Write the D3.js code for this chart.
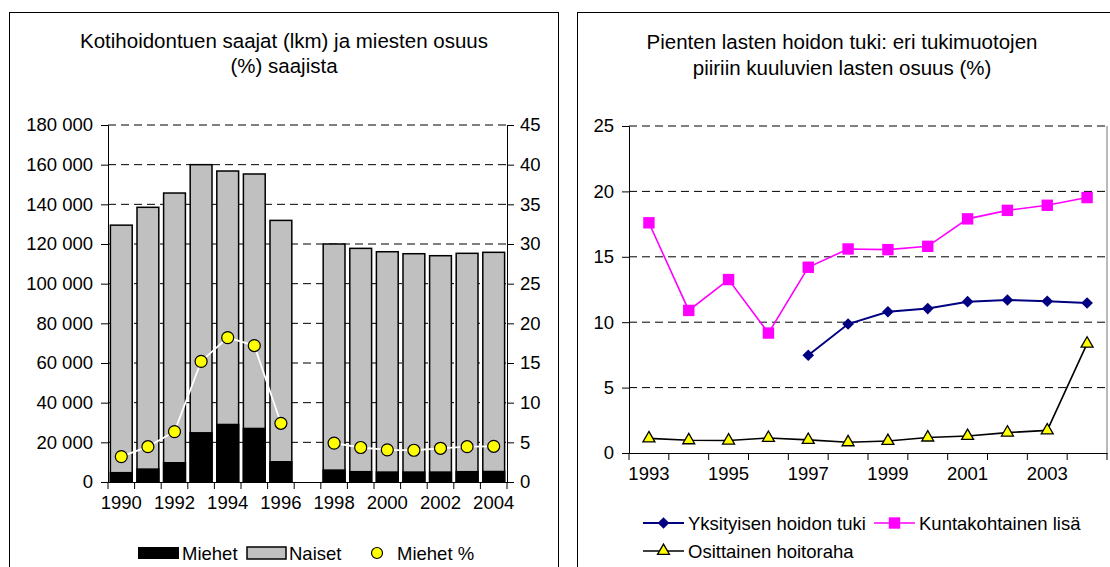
<!DOCTYPE html>
<html>
<head>
<meta charset="utf-8">
<script src="https://cdn.jsdelivr.net/npm/d3@7"></script>
<style>
  body { margin: 0; background: #fff; }
  text { font-family: "Liberation Sans", Arial, sans-serif; fill: #000; }
</style>
</head>
<body>
<script>
// left chart data
var years1 = [1990, 1991, 1992, 1993, 1994, 1995, 1996, 1997, 1998, 1999, 2000, 2001, 2002, 2003, 2004];
var miehet = [4700, 6500, 9700, 24800, 29000, 27000, 10200, null, 6000, 5200, 5000, 5000, 5000, 5200, 5300];
var naiset = [124800, 132000, 136000, 135200, 127800, 128300, 121700, null, 114000, 112600, 111100, 110100, 109100, 110100, 110500];
var miehetPct = [3.2, 4.45, 6.35, 15.2, 18.2, 17.2, 7.4, null, 4.9, 4.35, 4.05, 4.0, 4.25, 4.45, 4.5];
var leftTicks = [0, 20000, 40000, 60000, 80000, 100000, 120000, 140000, 160000, 180000];
var rightTicks = [0, 5, 10, 15, 20, 25, 30, 35, 40, 45];

// right chart data
var years2 = [1993, 1994, 1995, 1996, 1997, 1998, 1999, 2000, 2001, 2002, 2003, 2004];
var yksityisen = [null, null, null, null, 7.47, 9.86, 10.8, 11.04, 11.57, 11.7, 11.6, 11.47];
var kuntakohtainen = [17.6, 10.9, 13.26, 9.17, 14.2, 15.6, 15.55, 15.8, 17.9, 18.55, 18.94, 19.53];
var osittainen = [1.12, 0.97, 0.95, 1.15, 1.0, 0.82, 0.92, 1.18, 1.3, 1.56, 1.73, 8.36];
var pctTicks = [0, 5, 10, 15, 20, 25];

var fontSize = "18.5px";
var svg = d3.select("body").append("svg")
    .attr("width", 1110)
    .attr("height", 567);

var fmt = d3.formatLocale({decimal: ",", thousands: " ", grouping: [3], currency: ["", ""]}).format(",");

// ---------- left panel ----------
var L = svg.append("g");
L.append("rect")
    .attr("x", 9.5).attr("y", 12.5)
    .attr("width", 549).attr("height", 600)
    .attr("fill", "none").attr("stroke", "#000");

L.append("text").attr("x", 284).attr("y", 48).attr("text-anchor", "middle")
    .style("font-size", "20.5px").text("Kotihoidontuen saajat (lkm) ja miesten osuus");
L.append("text").attr("x", 284).attr("y", 73).attr("text-anchor", "middle")
    .style("font-size", "20.5px").text("(%) saajista");

var m1 = {left: 108, right: 507, top: 125, bottom: 482};
var x1 = d3.scaleBand().domain(years1).range([m1.left, m1.right]).paddingInner(0.18).paddingOuter(0.09);
var y1 = d3.scaleLinear().domain([0, 180000]).range([m1.bottom, m1.top]);
var y1r = d3.scaleLinear().domain([0, 45]).range([m1.bottom, m1.top]);

// gridlines
L.selectAll(".grid").data(leftTicks.slice(1)).enter().append("line")
    .attr("x1", m1.left).attr("x2", m1.right)
    .attr("y1", function(d) { return y1(d); }).attr("y2", function(d) { return y1(d); })
    .attr("stroke", "#000").attr("stroke-dasharray", "8,5");

var rows = years1.map(function(y, i) { return {year: y, m: miehet[i], n: naiset[i], p: miehetPct[i]}; })
    .filter(function(d) { return d.m != null; });

// stacked bars
L.selectAll(".naiset").data(rows).enter().append("rect")
    .attr("x", function(d) { return x1(d.year); })
    .attr("width", x1.bandwidth())
    .attr("y", function(d) { return y1(d.m + d.n); })
    .attr("height", function(d) { return y1(0) - y1(d.m + d.n); })
    .attr("fill", "#c0c0c0").attr("stroke", "#000").attr("stroke-width", 1.5);
L.selectAll(".miehet").data(rows).enter().append("rect")
    .attr("x", function(d) { return x1(d.year); })
    .attr("width", x1.bandwidth())
    .attr("y", function(d) { return y1(d.m); })
    .attr("height", function(d) { return y1(0) - y1(d.m); })
    .attr("fill", "#000").attr("stroke", "#000").attr("stroke-width", 1.5);

// axes
var axL = L.append("g").attr("transform", "translate(" + m1.left + ",0)")
    .call(d3.axisLeft(y1).tickValues(leftTicks).tickFormat(fmt).tickSize(7).tickPadding(8));
var axR = L.append("g").attr("transform", "translate(" + m1.right + ",0)")
    .call(d3.axisRight(y1r).tickValues(rightTicks).tickSize(7).tickPadding(6));
var axB = L.append("g").attr("transform", "translate(0," + m1.bottom + ")")
    .call(d3.axisBottom(x1).tickSize(0).tickPadding(14)
      .tickFormat(function(d) { return d % 2 === 0 ? d : ""; }));
var step1 = x1.step();
L.selectAll(".xt").data(years1.concat(["end"])).enter().append("line")
    .attr("x1", function(d, i) { return m1.left + i * step1; })
    .attr("x2", function(d, i) { return m1.left + i * step1; })
    .attr("y1", m1.bottom).attr("y2", m1.bottom + 7)
    .attr("stroke", "#000");

// miehet % line
var pctLine = d3.line()
    .defined(function(d) { return d.p != null; })
    .x(function(d) { return x1(d.year) + x1.bandwidth() / 2; })
    .y(function(d) { return y1r(d.p); });
var allRows = years1.map(function(y, i) { return {year: y, p: miehetPct[i]}; });
L.append("path").datum(allRows).attr("d", pctLine)
    .attr("fill", "none").attr("stroke", "#fff").attr("stroke-width", 1.8);
L.selectAll(".pt").data(rows).enter().append("circle")
    .attr("cx", function(d) { return x1(d.year) + x1.bandwidth() / 2; })
    .attr("cy", function(d) { return y1r(d.p); })
    .attr("r", 6)
    .attr("fill", "#ffff00").attr("stroke", "#000").attr("stroke-width", 1.2);

// legend left
var leg1 = L.append("g").attr("transform", "translate(0,553)");
leg1.append("rect").attr("x", 138).attr("y", -6).attr("width", 41).attr("height", 12).attr("fill", "#000");
leg1.append("text").attr("x", 182).attr("y", 6.5).style("font-size", fontSize).text("Miehet");
leg1.append("rect").attr("x", 247).attr("y", -6).attr("width", 39).attr("height", 12)
    .attr("fill", "#c0c0c0").attr("stroke", "#000").attr("stroke-width", 1.5);
leg1.append("text").attr("x", 289).attr("y", 6.5).style("font-size", fontSize).text("Naiset");
leg1.append("circle").attr("cx", 377).attr("cy", 0).attr("r", 5.5)
    .attr("fill", "#ffff00").attr("stroke", "#000").attr("stroke-width", 1.2);
leg1.append("text").attr("x", 397).attr("y", 6.5).style("font-size", fontSize).text("Miehet %");

// ---------- right panel ----------
var R = svg.append("g");
R.append("rect")
    .attr("x", 577.5).attr("y", 12.5)
    .attr("width", 600).attr("height", 600)
    .attr("fill", "none").attr("stroke", "#000");

R.append("text").attr("x", 842).attr("y", 49).attr("text-anchor", "middle")
    .style("font-size", "20.5px").text("Pienten lasten hoidon tuki: eri tukimuotojen");
R.append("text").attr("x", 842).attr("y", 75).attr("text-anchor", "middle")
    .style("font-size", "20.5px").text("piiriin kuuluvien lasten osuus (%)");

var m2 = {left: 629, right: 1107, top: 126, bottom: 453};
var x2 = d3.scaleBand().domain(years2).range([m2.left, m2.right]);
var y2 = d3.scaleLinear().domain([0, 25]).range([m2.bottom, m2.top]);

R.selectAll(".grid").data(pctTicks.slice(1)).enter().append("line")
    .attr("x1", m2.left).attr("x2", m2.right)
    .attr("y1", function(d) { return y2(d); }).attr("y2", function(d) { return y2(d); })
    .attr("stroke", "#000").attr("stroke-dasharray", "8,5");
R.append("line").attr("x1", m2.right).attr("x2", m2.right)
    .attr("y1", m2.top).attr("y2", m2.bottom).attr("stroke", "#777");

R.append("g").attr("transform", "translate(" + m2.left + ",0)")
    .call(d3.axisLeft(y2).tickValues(pctTicks).tickSize(7).tickPadding(8));
R.append("g").attr("transform", "translate(0," + m2.bottom + ")")
    .call(d3.axisBottom(x2).tickSize(0).tickPadding(14)
      .tickFormat(function(d) { return d % 2 === 1 ? d : ""; }));
var step2 = x2.step();
R.selectAll(".xt").data(years2.concat(["end"])).enter().append("line")
    .attr("x1", function(d, i) { return m2.left + i * step2; })
    .attr("x2", function(d, i) { return m2.left + i * step2; })
    .attr("y1", m2.bottom).attr("y2", m2.bottom + 7)
    .attr("stroke", "#000");

var series = [
  {name: "Yksityisen hoidon tuki", values: yksityisen, color: "#000080", width: 2, symbol: "diamond"},
  {name: "Kuntakohtainen lisä", values: kuntakohtainen, color: "#ff00ff", width: 1.6, symbol: "square"},
  {name: "Osittainen hoitoraha", values: osittainen, color: "#000", width: 1.6, symbol: "triangle"}
];

function drawMarker(g, s) {
  if (s.symbol === "diamond") {
    g.append("path").attr("d", d3.symbol().type(d3.symbolSquare).size(68)())
      .attr("transform", "rotate(45)").attr("fill", "#000080");
  } else if (s.symbol === "square") {
    g.append("path").attr("d", d3.symbol().type(d3.symbolSquare).size(130)())
      .attr("fill", "#ff00ff");
  } else {
    g.append("path").attr("d", d3.symbol().type(d3.symbolTriangle).size(62)())
      .attr("fill", "#ffff00").attr("stroke", "#000").attr("stroke-width", 1.3);
  }
}

var cx2 = function(d) { return x2(d.year) + x2.bandwidth() / 2; };
series.forEach(function(s) {
  var pts = years2.map(function(y, i) { return {year: y, v: s.values[i]}; });
  R.append("path").datum(pts)
    .attr("d", d3.line().defined(function(d) { return d.v != null; })
      .x(cx2).y(function(d) { return y2(d.v); }))
    .attr("fill", "none").attr("stroke", s.color).attr("stroke-width", s.width);
  pts.filter(function(d) { return d.v != null; }).forEach(function(d) {
    var g = R.append("g").attr("transform", "translate(" + cx2(d) + "," + y2(d.v) + ")");
    drawMarker(g, s);
  });
});

// legend right
var legPos = [[643, 523], [874, 523], [643, 551]];
series.forEach(function(s, i) {
  var g = R.append("g").attr("transform", "translate(" + legPos[i][0] + "," + legPos[i][1] + ")");
  g.append("line").attr("x1", 0).attr("x2", 41).attr("stroke", s.color).attr("stroke-width", s.width);
  var mk = g.append("g").attr("transform", "translate(20.5,0)");
  drawMarker(mk, s);
  g.append("text").attr("x", 45).attr("y", 6.5).style("font-size", fontSize).text(s.name);
});

// axis text styling
svg.selectAll(".tick text").style("font-size", fontSize).attr("fill", "#000");
svg.selectAll(".domain").attr("stroke", "#000");
axB.select(".domain").attr("stroke-width", 1);
</script>
</body>
</html>
